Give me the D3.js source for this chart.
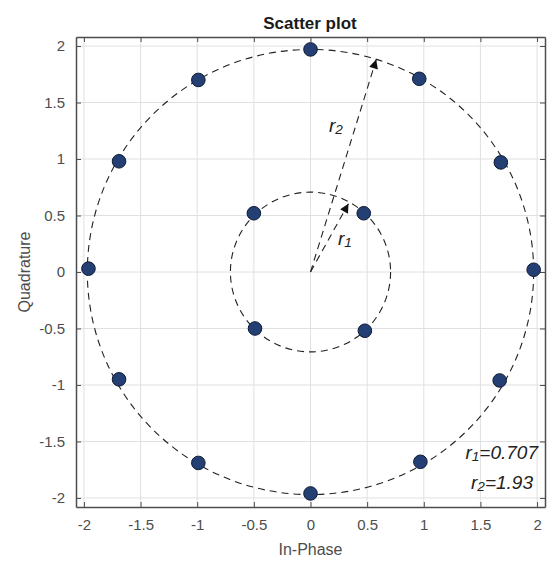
<!DOCTYPE html>
<html><head><meta charset="utf-8">
<script src="https://cdn.jsdelivr.net/npm/d3@7"></script>
<style>body{margin:0;background:#fff}svg{display:block}</style>
</head><body><div id="c"></div>
<script>
// ---- data ----
const outerI = [1.97, 1.68, 0.96, 0.00, -0.99, -1.69, -1.96, -1.69, -0.99, 0.00, 0.97, 1.67];
const outerQ = [0.02, 0.97, 1.71, 1.97, 1.70, 0.98, 0.03, -0.95, -1.69, -1.96, -1.68, -0.96];
const innerI = [0.47, -0.50, -0.49, 0.48];
const innerQ = [0.52, 0.52, -0.50, -0.52];
const ringRadii = [0.707, 1.97];
const arrowTips = [[0.335, 0.605], [0.58, 1.88]];
const tickValues = [-2, -1.5, -1, -0.5, 0, 0.5, 1, 1.5, 2];
const tickLabels = ["-2", "-1.5", "-1", "-0.5", "0", "0.5", "1", "1.5", "2"];
const title = "Scatter plot", xLabel = "In-Phase", yLabel = "Quadrature";
const annot = [["r","1","=0.707"],["r","2","=1.93"]];

const W = 547, H = 563;
const L = 76, R = 545, T = 37, B = 507;
const x = d3.scaleLinear().domain([-2.07, 2.07]).range([L, R]);
const y = d3.scaleLinear().domain([-2.08, 2.08]).range([B, T]);

const svg = d3.select("#c").append("svg").attr("width", W).attr("height", H)
  .style("font-family", "'Liberation Sans', Arial, sans-serif");

// grid
const g = svg.append("g");
g.selectAll(".gx").data(tickValues).join("line")
  .attr("x1", d => x(d)).attr("x2", d => x(d)).attr("y1", T).attr("y2", B)
  .attr("stroke", "#e0e0e0").attr("stroke-width", 1);
g.selectAll(".gy").data(tickValues).join("line")
  .attr("y1", d => y(d)).attr("y2", d => y(d)).attr("x1", L).attr("x2", R)
  .attr("stroke", "#e0e0e0").attr("stroke-width", 1);

// axes with inward ticks
const fmt = (d) => tickLabels[tickValues.indexOf(d)];
const axB = d3.axisBottom(x).tickValues(tickValues).tickFormat(fmt).tickSizeInner(-5).tickSizeOuter(0).tickPadding(12);
const axL = d3.axisLeft(y).tickValues(tickValues).tickFormat(fmt).tickSizeInner(-5).tickSizeOuter(0).tickPadding(11);
const axT = d3.axisTop(x).tickValues(tickValues).tickFormat("").tickSizeInner(-5).tickSizeOuter(0);
const axR = d3.axisRight(y).tickValues(tickValues).tickFormat("").tickSizeInner(-5).tickSizeOuter(0);
function style(sel){
  sel.selectAll("path").attr("stroke", "#4d4d4d").attr("stroke-width", 1.5);
  sel.selectAll("line").attr("stroke", "#4d4d4d");
  sel.selectAll("text").attr("fill", "#4d4d4d").style("font-size", "15px").style("font-family", "'Liberation Sans', Arial, sans-serif");
}
svg.append("g").attr("transform", `translate(0,${B})`).call(axB).call(style);
svg.append("g").attr("transform", `translate(${L},0)`).call(axL).call(style);
svg.append("g").attr("transform", `translate(0,${T})`).call(axT).call(style);
svg.append("g").attr("transform", `translate(${R},0)`).call(axR).call(style);

// dashed rings
const ox = x(0), oy = y(0);
svg.selectAll(".ring").data(ringRadii).join("ellipse")
  .attr("cx", ox).attr("cy", oy)
  .attr("rx", d => x(d) - x(0)).attr("ry", d => y(0) - y(d))
  .attr("fill", "none").attr("stroke", "#222").attr("stroke-width", 1.1)
  .attr("stroke-dasharray", "7,5");

// arrows
const defs = svg.append("defs");
defs.append("marker").attr("id", "ah").attr("viewBox", "0 0 10 10")
  .attr("refX", 10).attr("refY", 5).attr("markerWidth", 12).attr("markerHeight", 9)
  .attr("markerUnits", "userSpaceOnUse").attr("orient", "auto")
  .append("path").attr("d", "M0,0L10,5L0,10z").attr("fill", "#111");
svg.selectAll(".arr").data(arrowTips).join("line")
  .attr("x1", ox).attr("y1", oy).attr("x2", d => x(d[0])).attr("y2", d => y(d[1]))
  .attr("stroke", "#222").attr("stroke-width", 1.1).attr("stroke-dasharray", "7,5")
  .attr("marker-end", "url(#ah)");

// points
const pts = outerI.map((v, i) => [v, outerQ[i]]).concat(innerI.map((v, i) => [v, innerQ[i]]));
svg.selectAll(".pt").data(pts).join("circle")
  .attr("cx", d => x(d[0])).attr("cy", d => y(d[1])).attr("r", 6.8)
  .attr("fill", "#233f74").attr("stroke", "#0d1a33").attr("stroke-width", 1);

// arrow labels
function rlabel(px, py, sub, extra, size, anchor){
  const t = svg.append("text").attr("x", px).attr("y", py).attr("fill", "#222")
    .style("font-size", size + "px").style("font-style", "italic").attr("text-anchor", anchor || "start");
  t.append("tspan").text("r");
  t.append("tspan").text(sub).style("font-size", (size * 0.72) + "px").attr("dy", 2);
  if (extra) t.append("tspan").text(extra).attr("dy", -2);
  return t;
}
rlabel(329, 132, "2", "", 19);
rlabel(338, 245, "1", "", 19);
rlabel(538, 459, annot[0][1], annot[0][2], 19, "end");
rlabel(533, 489, annot[1][1], annot[1][2], 19, "end");

// title and labels
svg.append("text").attr("x", (L + R) / 2 - 0.5).attr("y", 29).attr("text-anchor", "middle")
  .style("font-size", "17px").style("font-weight", "bold").attr("fill", "#1a1a1a").text(title);
svg.append("text").attr("x", x(0)).attr("y", 555).attr("text-anchor", "middle")
  .style("font-size", "16px").attr("fill", "#4d4d4d").text(xLabel);
svg.append("text").attr("transform", `translate(30,${oy}) rotate(-90)`).attr("text-anchor", "middle")
  .style("font-size", "16px").attr("fill", "#4d4d4d").text(yLabel);
</script></body></html>
